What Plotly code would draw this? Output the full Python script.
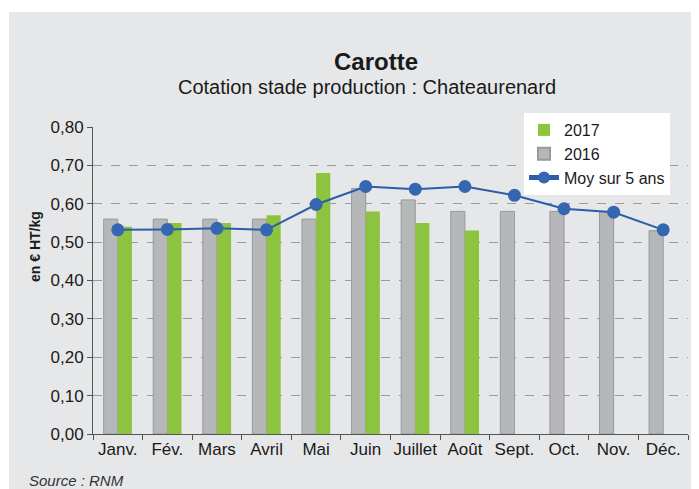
import plotly.graph_objects as go

months = ["Janv.", "Fév.", "Mars", "Avril", "Mai", "Juin", "Juillet", "Août",
          "Sept.", "Oct.", "Nov.", "Déc."]
values_2016 = [0.56, 0.56, 0.56, 0.56, 0.56, 0.64, 0.61, 0.58, 0.58, 0.58, 0.58, 0.53]
values_2017 = [0.54, 0.55, 0.55, 0.57, 0.68, 0.58, 0.55, 0.53, None, None, None, None]
moy_5ans = [0.532, 0.533, 0.536, 0.532, 0.598, 0.645, 0.638, 0.645, 0.622, 0.587, 0.578, 0.532]
y_ticks = [0.0, 0.1, 0.2, 0.3, 0.4, 0.5, 0.6, 0.7, 0.8]
y_ticktext = ["0,00", "0,10", "0,20", "0,30", "0,40", "0,50", "0,60", "0,70", "0,80"]

BG = "#e6e7e9"
FONT = "Liberation Sans, Arial, sans-serif"

# The page body has an 8px margin; design in screen coords and offset.
OFF = 8
W, H = 699 - OFF, 489 - OFF
L = 93 - OFF
R = W - (688 - OFF)
T = 127 - OFF
B = H - (434 - OFF)
pw, ph = W - L - R, H - T - B


def px(xs):
    return (xs - OFF - L) / pw


def py(ys):
    return (H - B - (ys - OFF)) / ph


fig = go.Figure()
fig.add_trace(go.Bar(
    x=months, y=values_2016, name="2016", legendrank=2,
    marker=dict(color="#b6b7b9", line=dict(color="#98999b", width=1)),
))
fig.add_trace(go.Bar(
    x=months, y=values_2017, name="2017", legendrank=1,
    marker=dict(color="#8cc43f", line=dict(width=0)),
))
fig.add_trace(go.Scatter(
    x=months, y=moy_5ans, name="Moy sur 5 ans", legendrank=3,
    mode="lines+markers",
    line=dict(color="#2c5daa", width=2),
    marker=dict(color="#3566b2", size=13),
))

fig.update_layout(
    width=W, height=H,
    margin=dict(l=L, r=R, t=T, b=B, autoexpand=False),
    paper_bgcolor="white",
    plot_bgcolor="rgba(0,0,0,0)",
    font=dict(family=FONT, size=17, color="#1a1a1a"),
    barmode="group",
    bargap=0.43,
    bargroupgap=0,
    showlegend=True,
    legend=dict(
        x=px(524), xanchor="left",
        y=py(113), yanchor="top",
        bgcolor="white", borderwidth=0,
        font=dict(size=16, color="#1a1a1a"),
        tracegroupgap=0, itemsizing="constant",
    ),
    shapes=[dict(
        type="rect", xref="paper", yref="paper", layer="below",
        x0=px(9), x1=px(710),
        y0=py(500), y1=py(12),
        fillcolor=BG, line=dict(width=0),
    )],
    annotations=[
        dict(text="<b>Carotte</b>", xref="paper", yref="paper",
             x=px(376), y=py(62), xanchor="center", yanchor="middle",
             showarrow=False, font=dict(size=24, color="#1a1a1a")),
        dict(text="Cotation stade production : Chateaurenard", xref="paper", yref="paper",
             x=px(367), y=py(87), xanchor="center", yanchor="middle",
             showarrow=False, font=dict(size=20, color="#1a1a1a")),
        dict(text="<b>en € HT/kg</b>", xref="paper", yref="paper", textangle=-90,
             x=px(35), y=py(247), xanchor="center", yanchor="middle",
             showarrow=False, font=dict(size=14, color="#1a1a1a")),
        dict(text="<i>Source : RNM</i>", xref="paper", yref="paper",
             x=px(27), y=py(480), xanchor="left", yanchor="middle",
             showarrow=False, font=dict(size=15, color="#333333")),
    ],
)
fig.update_xaxes(
    range=[-0.5, 11.5],
    showline=True, linecolor="#555555", linewidth=1,
    ticks="outside", tickson="boundaries", ticklen=5, tickcolor="#555555",
    showgrid=False, tickfont=dict(size=17), tickangle=0, automargin=False,
    fixedrange=True,
)
fig.update_yaxes(
    range=[0, 0.8], tickvals=y_ticks, ticktext=y_ticktext,
    showline=True, linecolor="#555555", linewidth=1,
    ticks="outside", ticklen=5, tickcolor="#555555",
    showgrid=True, gridcolor="#9a9a9a", griddash="dash", gridwidth=1,
    zeroline=False, tickfont=dict(size=17), automargin=False,
)

fig.write_html("out.html")
